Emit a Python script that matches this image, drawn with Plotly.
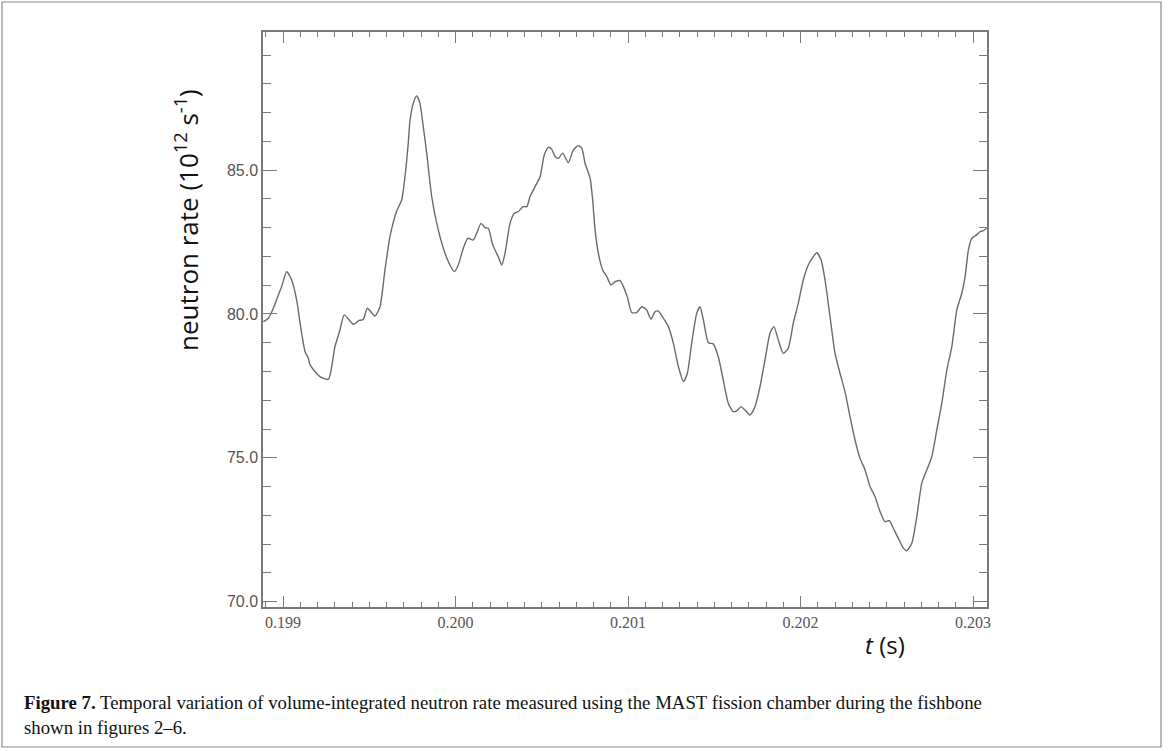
import plotly.graph_objects as go

# time (ms) and neutron rate (1e12 /s)
t_ms = [198.886, 198.915, 198.944, 198.973, 198.992, 199.021, 199.050, 199.079, 199.099, 199.118,
        199.128, 199.147, 199.157, 199.214, 199.263, 199.301, 199.330, 199.355, 199.408, 199.437,
        199.466, 199.489, 199.533, 199.562, 199.591, 199.620, 199.659, 199.688, 199.707, 199.726,
        199.736, 199.755, 199.775, 199.794, 199.813, 199.833, 199.862, 199.900, 199.939, 199.968,
        199.993, 200.016, 200.045, 200.071, 200.103, 200.123, 200.148, 200.171, 200.190, 200.213,
        200.233, 200.248, 200.268, 200.287, 200.316, 200.341, 200.364, 200.393, 200.413, 200.432,
        200.461, 200.490, 200.515, 200.538, 200.558, 200.577, 200.596, 200.621, 200.654, 200.683,
        200.712, 200.732, 200.751, 200.780, 200.795, 200.809, 200.828, 200.853, 200.877, 200.901,
        200.925, 200.954, 200.973, 200.998, 201.021, 201.050, 201.079, 201.108, 201.133, 201.157,
        201.176, 201.205, 201.234, 201.263, 201.292, 201.321, 201.344, 201.369, 201.398, 201.417,
        201.437, 201.466, 201.494, 201.523, 201.552, 201.581, 201.610, 201.630, 201.655, 201.678,
        201.707, 201.736, 201.765, 201.794, 201.823, 201.846, 201.871, 201.900, 201.929, 201.958,
        201.987, 202.016, 202.045, 202.068, 202.094, 202.119, 202.142, 202.171, 202.200, 202.229,
        202.258, 202.287, 202.316, 202.345, 202.374, 202.403, 202.432, 202.461, 202.490, 202.515,
        202.538, 202.567, 202.596, 202.616, 202.645, 202.674, 202.703, 202.732, 202.761, 202.790,
        202.819, 202.848, 202.877, 202.906, 202.935, 202.954, 202.973, 202.993, 203.021, 203.041,
        203.060, 203.079]
rate = [79.73, 79.85, 80.20, 80.66, 80.95, 81.47, 81.18, 80.49, 79.68, 78.98,
        78.69, 78.46, 78.23, 77.82, 77.73, 78.86, 79.44, 79.97, 79.64, 79.76,
        79.82, 80.20, 79.93, 80.25, 81.53, 82.69, 83.58, 83.96, 84.77, 85.93,
        86.71, 87.32, 87.58, 87.32, 86.51, 85.59, 84.08, 82.92, 82.11, 81.70,
        81.47, 81.70, 82.28, 82.63, 82.57, 82.81, 83.15, 83.00, 82.98, 82.46,
        82.17, 81.99, 81.70, 82.11, 83.15, 83.50, 83.56, 83.73, 83.73, 84.08,
        84.42, 84.77, 85.53, 85.79, 85.72, 85.47, 85.41, 85.59, 85.26, 85.70,
        85.85, 85.76, 85.24, 84.72, 83.96, 82.92, 82.11, 81.53, 81.30, 81.01,
        81.12, 81.16, 80.95, 80.55, 80.05, 80.05, 80.25, 80.14, 79.82, 80.08,
        80.10, 79.85, 79.56, 78.98, 78.17, 77.65, 77.94, 78.98, 80.02, 80.25,
        79.79, 79.00, 78.96, 78.52, 77.71, 76.90, 76.60, 76.63, 76.78, 76.66,
        76.49, 76.78, 77.47, 78.40, 79.33, 79.56, 79.10, 78.63, 78.81, 79.68,
        80.37, 81.18, 81.70, 81.94, 82.13, 81.88, 81.18, 79.91, 78.63, 77.94,
        77.29, 76.43, 75.62, 74.98, 74.58, 74.00, 73.65, 73.13, 72.78, 72.82,
        72.55, 72.20, 71.86, 71.77, 72.03, 72.95, 74.12, 74.58, 75.04, 75.97,
        76.90, 78.05, 78.86, 80.14, 80.72, 81.30, 82.22, 82.63, 82.75, 82.86,
        82.90, 82.98]

t_s = [v / 1000.0 for v in t_ms]

x_tickvals = [0.199, 0.200, 0.201, 0.202, 0.203]
x_ticktext = ["0.199", "0.200", "0.201", "0.202", "0.203"]
y_tickvals = [70, 75, 80, 85]
y_ticktext = ["70.0", "75.0", "80.0", "85.0"]

caption_line1 = ("<b>Figure 7.</b> Temporal variation of volume-integrated neutron rate measured "
                 "using the MAST fission chamber during the fishbone")
caption_line2 = "shown in figures 2\u20136."

W, H = 1168, 751
L, R, T, B = 263, 987, 32, 607


def px(xp):
    return (xp - L) / (R - L)


def py(yp):
    return (B - yp) / (B - T)


axis_col = "#7a7a7a"

fig = go.Figure()
fig.add_trace(go.Scatter(x=t_s, y=rate, mode="lines",
                         line=dict(color="#6a6a6a", width=1.4, shape="spline", smoothing=0.6),
                         hoverinfo="skip", showlegend=False))

fig.update_layout(
    width=W, height=H,
    margin=dict(l=L, r=W - R, t=T, b=H - B),
    paper_bgcolor="white", plot_bgcolor="white",
    showlegend=False,
    xaxis=dict(range=[0.198884, 0.203081], tickvals=x_tickvals, ticktext=x_ticktext,
               ticks="inside", ticklen=11, tickwidth=1.2, tickcolor=axis_col,
               showline=True, linecolor=axis_col, linewidth=1.5, mirror="allticks",
               showgrid=False, zeroline=False,
               tickfont=dict(family="Liberation Serif", size=16, color="#555555"),
               minor=dict(ticks="inside", dtick=0.0001, tick0=0.199, ticklen=5,
                          tickwidth=1, tickcolor=axis_col, showgrid=False)),
    yaxis=dict(range=[69.815, 89.80], tickvals=y_tickvals, ticktext=y_ticktext,
               ticks="inside", ticklen=14, tickwidth=1.2, tickcolor=axis_col,
               showline=True, linecolor=axis_col, linewidth=1.5, mirror="allticks",
               showgrid=False, zeroline=False,
               tickfont=dict(family="Liberation Sans", size=16, color="#555555"),
               minor=dict(ticks="inside", dtick=1, tick0=70, ticklen=8,
                          tickwidth=1, tickcolor=axis_col, showgrid=False)),
)

# y-axis title
fig.add_annotation(xref="paper", yref="paper", x=px(187), y=py(220),
                   text="neutron rate (10<sup>12</sup> s<sup>-1</sup>)", textangle=-90,
                   showarrow=False, xanchor="center", yanchor="middle",
                   font=dict(family="Open Sans", size=26, color="#111111"))
# x-axis title
fig.add_annotation(xref="paper", yref="paper", x=px(885), y=py(644),
                   text="<i>t</i> (s)", showarrow=False, xanchor="center", yanchor="middle",
                   font=dict(family="Open Sans", size=24, color="#111111"))
# caption
fig.add_annotation(xref="paper", yref="paper", x=px(22), y=py(702),
                   text=caption_line1, showarrow=False, xanchor="left", yanchor="middle",
                   font=dict(family="Liberation Serif", size=18.8, color="#111111"))
fig.add_annotation(xref="paper", yref="paper", x=px(22), y=py(727),
                   text=caption_line2, showarrow=False, xanchor="left", yanchor="middle",
                   font=dict(family="Liberation Serif", size=18.8, color="#111111"))

# outer frame
fig.add_shape(type="rect", xref="paper", yref="paper",
              x0=px(2), x1=px(1161), y0=py(747), y1=py(2),
              line=dict(color="#8a8a8a", width=1.2), fillcolor="rgba(0,0,0,0)", layer="below")

fig.write_html("out.html")
